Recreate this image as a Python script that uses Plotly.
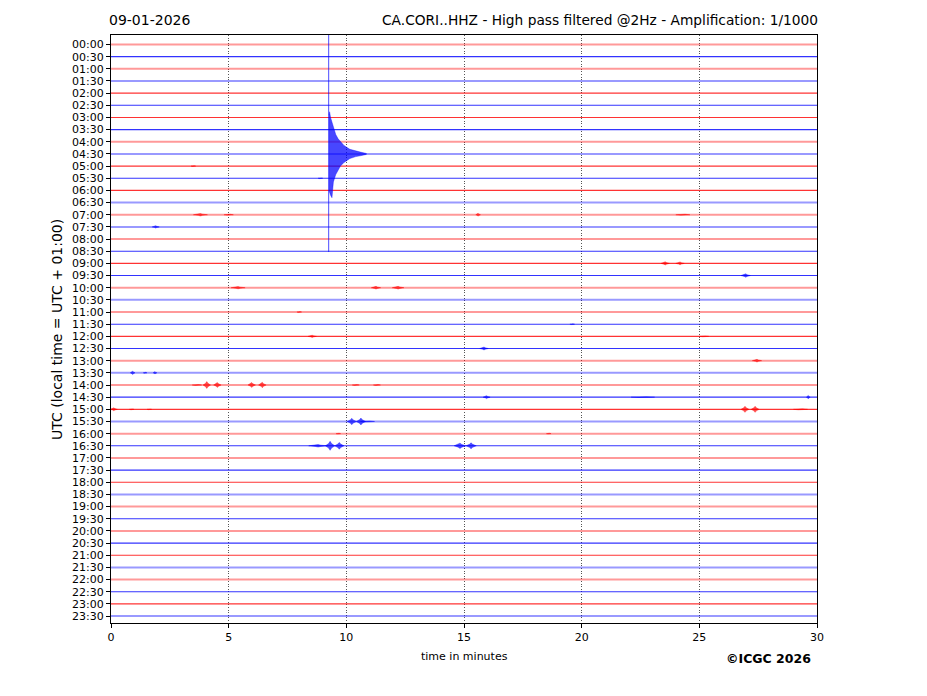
import plotly.graph_objects as go

# ---- data ----
row_labels = [f"{h:02d}:{m:02d}" for h in range(24) for m in (0, 30)]
# 1 = visibly noisier (lighter, thicker) trace, 0 = quiet trace
row_noise = [1, 0, 1, 1, 0, 0, 0, 0, 1, 1,
             0, 0, 0, 1, 1, 1, 0, 0, 0, 0,
             1, 1, 0, 0, 0, 0, 1, 1, 0, 0,
             0, 1, 1, 0, 0, 0, 0, 1, 1, 0,
             0, 0, 0, 1, 1, 0, 0, 1]

# small events: row index, centre (min), half-width (min), amplitude (rows)
ev_row = [14, 14, 14, 14, 15, 18, 18, 19, 20, 20, 20, 22, 23, 24, 24, 25, 26,
          27, 27, 27, 28, 28, 28, 28, 28, 28, 28, 29, 29, 29,
          30, 30, 30, 30, 30, 30, 31, 31, 31, 32, 32, 33, 33, 33, 33, 33, 10, 11]
ev_min = [3.8, 5.0, 15.6, 24.3, 1.9, 23.55, 24.18, 26.97, 5.4, 11.26, 12.2, 8.0, 19.6, 8.55, 25.2, 15.85, 27.45,
          0.92, 1.45, 1.87, 3.65, 4.07, 4.52, 5.98, 6.43, 10.4, 11.3, 15.96, 22.6, 29.63,
          0.12, 0.88, 1.63, 26.94, 27.37, 29.3, 10.23, 10.62, 10.9, 9.66, 18.6, 8.8, 9.31, 9.7, 14.83, 15.3, 3.5, 8.9]
ev_hw = [0.3, 0.2, 0.1, 0.3, 0.15, 0.18, 0.18, 0.2, 0.3, 0.2, 0.25, 0.1, 0.1, 0.18, 0.2, 0.18, 0.2,
         0.1, 0.08, 0.08, 0.2, 0.16, 0.16, 0.16, 0.16, 0.15, 0.15, 0.15, 0.5, 0.08,
         0.15, 0.1, 0.1, 0.17, 0.17, 0.3, 0.2, 0.2, 0.3, 0.1, 0.1, 0.4, 0.2, 0.2, 0.25, 0.22, 0.1, 0.1]
ev_amp = [0.1, 0.08, 0.12, 0.08, 0.1, 0.13, 0.12, 0.14, 0.09, 0.11, 0.11, 0.08, 0.06, 0.09, 0.07, 0.12, 0.11,
          0.14, 0.08, 0.1, 0.07, 0.28, 0.2, 0.2, 0.22, 0.08, 0.08, 0.12, 0.05, 0.14,
          0.12, 0.07, 0.05, 0.25, 0.25, 0.08, 0.26, 0.28, 0.08, 0.06, 0.06, 0.1, 0.37, 0.28, 0.22, 0.25, 0.06, 0.06]

# earthquake on the 04:30 line
quake_row = 9
quake_spike_min = 9.25
quake_spike_bottom = 17.06
quake_t = [9.26, 9.29, 9.33, 9.39, 9.45, 9.55, 9.65, 9.75, 9.9, 10.15, 10.4, 10.6, 10.85]
quake_up = [3.2, 3.47, 3.0, 2.6, 2.1, 1.6, 1.25, 1.0, 0.7, 0.38, 0.22, 0.15, 0.04]
quake_dn = [3.0, 3.2, 3.4, 3.6, 2.3, 1.7, 1.3, 1.0, 0.7, 0.38, 0.22, 0.15, 0.04]

x_ticks = [0, 5, 10, 15, 20, 25, 30]

RED = "255,0,0"
BLUE = "0,0,255"

fig = go.Figure()

for i, lab in enumerate(row_labels):
    c = RED if i % 2 == 0 else BLUE
    if row_noise[i]:
        col, w = f"rgba({c},0.4)", 2.0
    else:
        col, w = f"rgba({c},0.8)", 1.1
    fig.add_trace(go.Scatter(x=[0, 30], y=[i, i], mode="lines",
                             line=dict(color=col, width=w), hoverinfo="skip", showlegend=False))

for r, m, hw, a in zip(ev_row, ev_min, ev_hw, ev_amp):
    c = RED if r % 2 == 0 else BLUE
    fig.add_trace(go.Scatter(
        x=[m - hw, m - hw * 0.3, m, m + hw * 0.3, m + hw, m + hw * 0.3, m, m - hw * 0.3, m - hw],
        y=[r, r - a * 0.5, r - a, r - a * 0.5, r, r + a * 0.5, r + a, r + a * 0.5, r],
        mode="lines", fill="toself", fillcolor=f"rgba({c},0.7)",
        line=dict(color=f"rgba({c},0.6)", width=0.6), hoverinfo="skip", showlegend=False))

# quake envelope
qx = quake_t + quake_t[::-1]
qy = [quake_row - u for u in quake_up] + [quake_row + d for d in quake_dn[::-1]]
fig.add_trace(go.Scatter(x=qx, y=qy, mode="lines", fill="toself",
                         fillcolor="rgba(0,0,255,0.72)", line=dict(color="rgba(0,0,255,0.6)", width=0.6),
                         hoverinfo="skip", showlegend=False))
fig.add_trace(go.Scatter(x=[quake_spike_min, quake_spike_min], y=[-2, quake_spike_bottom], mode="lines",
                         line=dict(color="rgba(0,0,255,0.7)", width=1.0), hoverinfo="skip", showlegend=False))

font = "DejaVu Sans"
fig.update_layout(
    width=919, height=688,
    margin=dict(l=103, r=110, t=27, b=73),
    paper_bgcolor="white", plot_bgcolor="white",
    font=dict(family=font, size=11, color="black"),
    xaxis=dict(range=[0, 30], tickvals=x_ticks, ticktext=[str(v) for v in x_ticks],
               showgrid=True, gridcolor="#555", griddash="1px,1.6px", gridwidth=0.8,
               ticks="outside", ticklen=4, tickcolor="black",
               showline=True, linecolor="black", linewidth=1.2, mirror=True, zeroline=False,
               tickfont=dict(size=11)),
    yaxis=dict(range=[47.57, -0.78], tickvals=list(range(48)), ticktext=row_labels,
               showgrid=False, ticks="outside", ticklen=4, tickcolor="black",
               showline=True, linecolor="black", linewidth=1.2, mirror=True, zeroline=False,
               tickfont=dict(size=11)),
    annotations=[
        dict(text="09-01-2026", xref="paper", yref="paper", x=-0.005, y=1.0255,
             xanchor="left", yanchor="middle", showarrow=False, font=dict(size=14)),
        dict(text="CA.CORI..HHZ - High pass filtered @2Hz - Amplification: 1/1000", xref="paper", yref="paper",
             x=1.004, y=1.0255, xanchor="right", yanchor="middle", showarrow=False, font=dict(size=13.75)),
        dict(text="UTC (local time = UTC + 01:00)", xref="paper", yref="paper", x=-0.0765, y=0.5,
             xanchor="center", yanchor="middle", textangle=-90, showarrow=False, font=dict(size=14)),
        dict(text="time in minutes", xref="paper", yref="paper", x=0.5, y=-0.0578,
             xanchor="center", yanchor="middle", showarrow=False, font=dict(size=11)),
        dict(text="<b>©ICGC 2026</b>", xref="paper", yref="paper", x=0.9945, y=-0.0612,
             xanchor="right", yanchor="middle", showarrow=False, font=dict(size=12.5)),
    ],
)

fig.write_html("out.html")
